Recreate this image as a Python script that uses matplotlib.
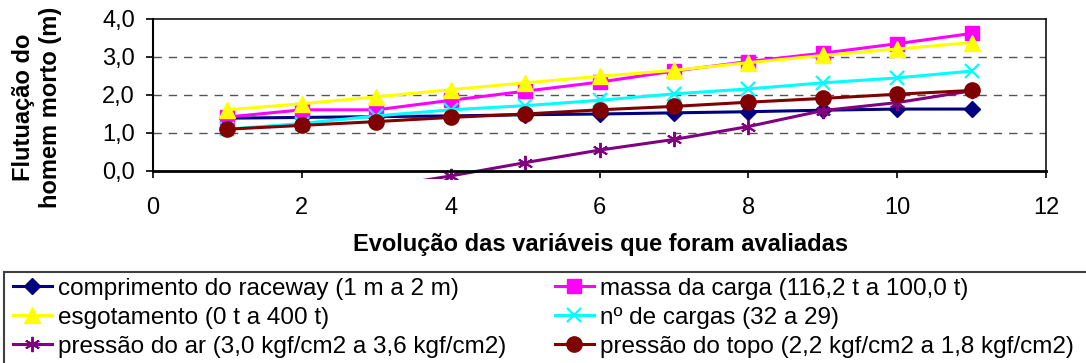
import numpy as np
import matplotlib
matplotlib.use("Agg")
import matplotlib.pyplot as plt
from matplotlib.patches import Rectangle
from matplotlib.ticker import FuncFormatter

plt.rcParams["font.family"] = ["Liberation Sans", "DejaVu Sans"]

# ── data ──────────────────────────────────────────────────────────────────────
x = np.arange(1, 12)

comprimento = [1.39, 1.41, 1.43, 1.45, 1.48, 1.50, 1.53, 1.56, 1.60, 1.63, 1.63]
massa       = [1.42, 1.61, 1.61, 1.86, 2.10, 2.34, 2.63, 2.88, 3.10, 3.35, 3.62]
esgotamento = [1.61, 1.77, 1.95, 2.14, 2.32, 2.49, 2.65, 2.85, 3.04, 3.21, 3.38]
n_cargas    = [1.10, 1.25, 1.45, 1.61, 1.72, 1.86, 2.03, 2.16, 2.32, 2.45, 2.63]
pressao_ar  = [np.nan, np.nan, -0.45, -0.13, 0.22, 0.55, 0.83, 1.17, 1.59, 1.80, 2.11]
pressao_topo = [1.10, 1.20, 1.30, 1.41, 1.50, 1.61, 1.70, 1.81, 1.91, 2.02, 2.12]

labels = [
    "comprimento do raceway (1 m a 2 m)",
    "massa da carga (116,2 t a 100,0 t)",
    "esgotamento (0 t a 400 t)",
    "nº de cargas (32 a 29)",
    "pressão do ar (3,0 kgf/cm2 a 3,6 kgf/cm2)",
    "pressão do topo (2,2 kgf/cm2 a 1,8 kgf/cm2)",
]

STYLES = [
    dict(color="#000080", marker="D", ms=8),
    dict(color="#FF00FF", marker="s", ms=10),
    dict(color="#FFFF00", marker="^", ms=11),
    dict(color="#00FFFF", marker="x", ms=10, mew=1.6),
    dict(color="#800080", marker=(6, 2, 0), ms=11, mew=1.4),
    dict(color="#800000", marker="o", ms=11),
]

FS = 17

# ── figure ────────────────────────────────────────────────────────────────────
fig = plt.figure(figsize=(10.86, 3.63), dpi=100)
W, H = 1086, 363
ax = fig.add_axes([153 / W, 1 - 171 / H, 893 / W, 152 / H])

# clip a bit below the x axis, so the low end of the air-pressure line still shows
clip = Rectangle((0, -0.05), 1, 1.05, transform=ax.transAxes, visible=False)
ax.add_patch(clip)

series = [comprimento, massa, esgotamento, n_cargas, pressao_ar, pressao_topo]
handles = []
for vals, lab, st in zip(series, labels, STYLES):
    ln, = ax.plot(x, vals, lw=2.2, label=lab, mec=st["color"], **st)
    ln.set_clip_path(clip)
    handles.append(ln)

ax.set_xlim(0, 12)
ax.set_ylim(0, 4)
ax.set_xticks(range(0, 13, 2))
ax.set_yticks([0, 1, 2, 3, 4])
ax.yaxis.set_major_formatter(FuncFormatter(lambda v, _: f"{v:.1f}".replace(".", ",")))
ax.tick_params(axis="both", direction="out", length=5, width=1.2, labelsize=FS)
ax.tick_params(axis="x", pad=14)
ax.tick_params(axis="y", pad=8)

for yv in (1, 2, 3):
    ax.axhline(yv, color="#555555", lw=1.0, ls=(0, (6, 5)), zorder=0)

ax.spines["left"].set_linewidth(1.5)
ax.spines["bottom"].set_linewidth(2.0)
ax.spines["top"].set_linewidth(1.1)
ax.spines["right"].set_linewidth(1.1)

fig.text(37 / W, 1 - 107 / H, "Flutuação do\nhomem morto (m)", rotation=90,
         ha="center", va="center", multialignment="center",
         fontsize=FS, fontweight="bold", linespacing=1.2)
fig.text(601 / W, 1 - 245 / H, "Evolução das variáveis que foram avaliadas",
         ha="center", va="center", fontsize=FS, fontweight="bold")

# ── legend ────────────────────────────────────────────────────────────────────
fig.patches.append(Rectangle((4 / W, -0.05), 1.0, 1.05 - 272 / H,
                             transform=fig.transFigure, fill=False,
                             ec="#404040", lw=1.5))
order = [0, 2, 4, 1, 3, 5]
fig.legend([handles[i] for i in order], [labels[i] for i in order],
           loc="upper left", bbox_to_anchor=(8 / W, 1 - 273 / H), ncol=2,
           frameon=False, fontsize=17.5, handlelength=1.6, handletextpad=0.25,
           columnspacing=2.0, labelspacing=0.28, borderpad=0.2, borderaxespad=0)

fig.savefig("out.png", dpi=100)
